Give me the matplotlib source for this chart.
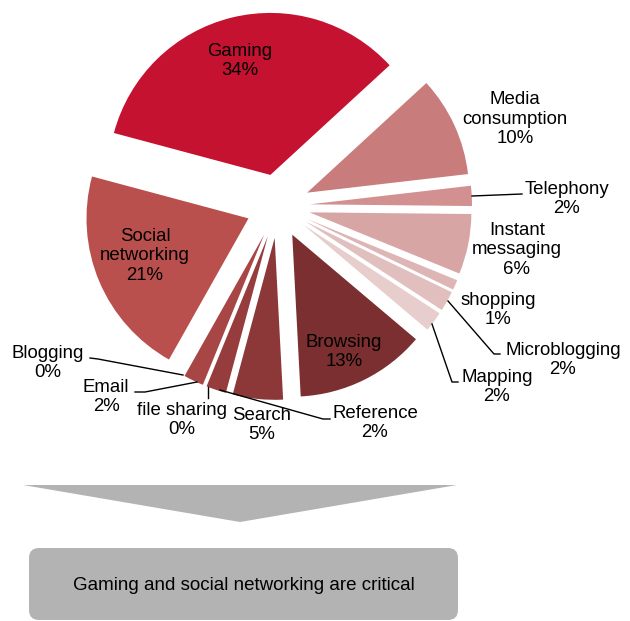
import matplotlib.pyplot as plt
from matplotlib.patches import FancyBboxPatch, Polygon

plt.rcParams['font.family'] = ['Liberation Sans', 'DejaVu Sans']

W, H = 630, 621

categories = ['Gaming', 'Media\nconsumption', 'Telephony', 'Instant\nmessaging',
              'shopping', 'Microblogging', 'Mapping', 'Browsing', 'Search',
              'Reference', 'file sharing', 'Email', 'Blogging', 'Social\nnetworking']
shares = [34, 10, 2, 6, 1, 2, 2, 13, 5, 2, 0, 2, 0, 21]
colors = ['#C41230', '#C87C7B', '#D29190', '#D8A5A5', '#DEB5B5', '#E2BFBF',
          '#E8CDCD', '#7B2F30', '#8C3838', '#963C3C', '#A04040', '#A84646',
          '#B04A4A', '#BA504D']

# label centres, in pixels from the top-left corner
label_pos = [(240, 61), (515, 119), (567, 199), (517, 250), (498, 310),
             (563, 360), (497, 387), (344, 352), (262, 425), (375, 423),
             (182, 420), (106, 397), (48, 363), (145, 256)]

# leader lines for the small slices (pixels from top-left)
leaders = [
    [(472, 196), (522, 194)],                 # Telephony
    [(448, 301), (494, 354), (500, 354)],     # Microblogging
    [(432, 324), (452, 382), (458, 382)],     # Mapping
    [(220, 390), (323, 419), (330, 419)],     # Reference
    [(208, 387), (208, 398)],                 # file sharing
    [(197, 382), (145, 392), (135, 392)],     # Email
    [(183, 375), (98, 359), (90, 358)],       # Blogging
]

fig = plt.figure(figsize=(W / 100, H / 100), dpi=100)
ax = fig.add_axes([0, 0, 1, 1])

ax.pie(shares, colors=colors, explode=[32] * len(shares), startangle=165,
       counterclock=False, radius=162, center=(278, H - 206),
       wedgeprops=dict(linewidth=0))

for cat, val, (x, y) in zip(categories, shares, label_pos):
    ax.text(x, H - y, f'{cat}\n{val}%', ha='center', va='center',
            fontsize=13.4, linespacing=1.2, color='black')

for pts in leaders:
    ax.plot([p[0] for p in pts], [H - p[1] for p in pts], color='black', lw=1)

# arrow pointing down to the conclusion
ax.add_patch(Polygon([(23, H - 485), (457, H - 485), (240, H - 522)],
                     closed=True, facecolor='#B3B3B3', edgecolor='none'))
ax.add_patch(FancyBboxPatch((29, H - 620), 429, 72,
                            boxstyle='round,pad=0,rounding_size=10',
                            facecolor='#B3B3B3', edgecolor='none'))
ax.text(244, H - 585, 'Gaming and social networking are critical',
        ha='center', va='center', fontsize=13.5, color='black')

ax.set_xlim(0, W)
ax.set_ylim(0, H)
ax.axis('off')

fig.savefig('out.png', dpi=100)
